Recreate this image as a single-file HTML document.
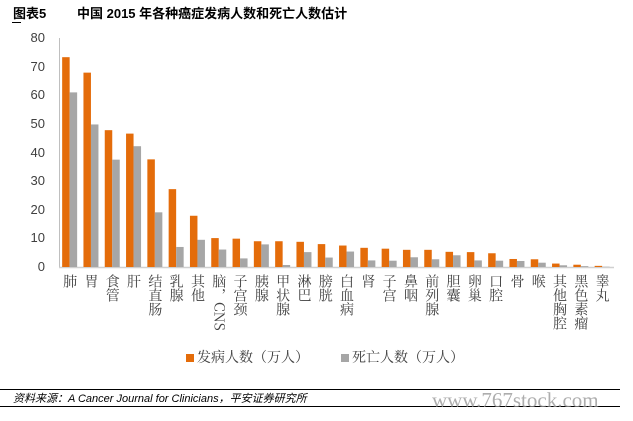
<!DOCTYPE html><html><head><meta charset="utf-8"><style>
body{margin:0;width:633px;height:421px;background:#fff;position:relative;overflow:hidden;font-family:"Liberation Sans","Noto Sans CJK SC",sans-serif}
.t{position:absolute;white-space:nowrap}
.yl{position:absolute;font-size:13px;color:#404040;width:30px;text-align:right;left:15px}
.xl{position:absolute;top:274px;height:120px;writing-mode:vertical-rl;text-orientation:mixed;font-family:"Noto Serif CJK SC","Liberation Serif",serif;font-size:14px;color:#404040;line-height:15px;white-space:nowrap}
</style></head><body>
<div class="t" style="left:13px;top:3px;font-size:13px;font-weight:bold;color:#000">图表5</div>
<div class="t" style="left:77px;top:3px;font-size:13px;font-weight:bold;color:#000">中国 2015 年各种癌症发病人数和死亡人数估计</div>
<div style="position:absolute;left:12px;top:22px;width:9px;height:1px;background:#000"></div>
<div id="c"></div>
<svg width="633" height="421" style="position:absolute;left:0;top:0" id="s"></svg>
<div class="t" style="left:186px;top:347px;font-size:14px;color:#404040;font-family:'Noto Serif CJK SC',serif"><span style="display:inline-block;width:8px;height:8px;background:#E46C0A;margin-right:3px"></span>发病人数（万人）</div>
<div class="t" style="left:341px;top:347px;font-size:14px;color:#404040;font-family:'Noto Serif CJK SC',serif"><span style="display:inline-block;width:8px;height:8px;background:#A6A6A6;margin-right:3px"></span>死亡人数（万人）</div>
<div style="position:absolute;left:0;top:389px;width:620px;height:1px;background:#000"></div>
<div style="position:absolute;left:0;top:406px;width:620px;height:1px;background:#000"></div>
<div class="t" style="left:13px;top:390px;font-size:11px;font-style:italic;color:#000">资料来源：A Cancer Journal for Clinicians，平安证券研究所</div>
<div class="t" style="left:432px;top:388px;font-size:21px;color:#999;font-family:'Liberation Serif',serif;opacity:.8">www.767stock.com</div>
<script>
var d=[["肺",73.3,61],["胃",67.9,49.8],["食管",47.8,37.5],["肝",46.6,42.2],["结直肠",37.6,19.1],["乳腺",27.2,7],["其他",17.9,9.5],["脑，CNS",10.1,6.1],["子宫颈",9.9,3],["胰腺",9,7.9],["甲状腺",9,0.7],["淋巴",8.8,5.2],["膀胱",8,3.3],["白血病",7.5,5.4],["肾",6.7,2.3],["子宫",6.4,2.2],["鼻咽",6,3.4],["前列腺",6,2.7],["胆囊",5.3,4.1],["卵巢",5.2,2.3],["口腔",4.8,2.2],["骨",2.8,2.1],["喉",2.7,1.5],["其他胸腔",1.2,0.6],["黑色素瘤",0.8,0.3],["睾丸",0.4,0.1]];
var y0=267,k=229/80,x0=59,w=21.3,s='',h='';
s+='<line x1="59.5" y1="38" x2="59.5" y2="267" stroke="#bfbfbf"/><line x1="59" y1="267.5" x2="614" y2="267.5" stroke="#d0d0d0" stroke-width="1.5"/>';
for(var i=0;i<=8;i++){h+='<div class="yl" style="top:'+(y0-i*10*k-8)+'px">'+(i*10)+'</div>';}
d.forEach(function(r,i){var cx=x0+w*i+w/2;
s+='<rect x="'+(cx-7.5)+'" y="'+(y0-r[1]*k)+'" width="7.5" height="'+(r[1]*k)+'" fill="#E46C0A"/>';
s+='<rect x="'+cx+'" y="'+(y0-r[2]*k)+'" width="7.5" height="'+(r[2]*k)+'" fill="#A6A6A6"/>';
h+='<div class="xl" style="left:'+(cx-7.5)+'px">'+r[0]+'</div>';});
document.getElementById('s').innerHTML=s;document.getElementById('c').innerHTML=h;
</script>
</body></html>
